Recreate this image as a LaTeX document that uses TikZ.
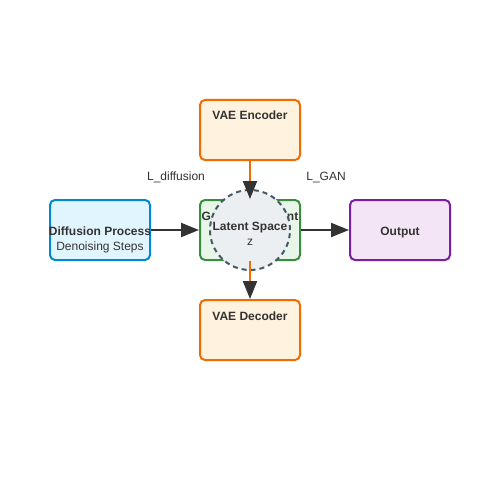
\documentclass[tikz,border=0pt]{standalone}
\usepackage{fontspec}
\setmainfont{Liberation Sans}
\usetikzlibrary{arrows.meta}
\definecolor{txt}{HTML}{333333}
\definecolor{encF}{HTML}{FFF3E0}\definecolor{encD}{HTML}{EF6C00}
\definecolor{difF}{HTML}{E1F5FE}\definecolor{difD}{HTML}{0288D1}
\definecolor{ganF}{HTML}{E8F5E9}\definecolor{ganD}{HTML}{388E3C}
\definecolor{outF}{HTML}{F3E5F5}\definecolor{outD}{HTML}{7B1FA2}
\definecolor{latF}{HTML}{ECEFF1}\definecolor{latD}{HTML}{455A64}
\tikzset{
  box/.style={draw, line width=2pt, rounded corners=5pt, minimum width=100pt, minimum height=60pt, inner sep=0pt},
  ttl/.style={font=\fontsize{12}{14}\selectfont\bfseries, text=txt, inner sep=0pt, anchor=base},
  sub/.style={font=\fontsize{12}{14}\selectfont, text=txt, inner sep=0pt, anchor=base},
  tip/.style={-{Triangle[length=18pt,width=14pt,color=txt]}},
  flow/.style={tip, line width=2pt, draw=txt},
  oflow/.style={tip, line width=2pt, draw=encD},
}
\begin{document}
\begin{tikzpicture}[x=1pt,y=-1pt]
\useasboundingbox (0,0) rectangle (500,500);
\fill[white] (0,0) rectangle (500,500);
\node[box, draw=encD, fill=encF] (enc) at (250,130) {};
\node[ttl] (encT) at (250,120) {VAE Encoder};
\node[box, draw=difD, fill=difF] (dif) at (100,230) {};
\node[ttl] (difT) at (100,235) {Diffusion Process};
\node[sub] (difS) at (100,250) {Denoising Steps};
\node[box, draw=ganD, fill=ganF] (gan) at (250,230) {};
\node[ttl] (ganT) at (250,220) {GAN Component};
\node[box, draw=outD, fill=outF] (out) at (400,230) {};
\node[ttl] (outT) at (400,235) {Output};
\node[box, draw=encD, fill=encF] (dec) at (250,330) {};
\node[ttl] (decT) at (250,320) {VAE Decoder};
\node[circle, draw=latD, fill=latF, line width=2pt, dash pattern=on 5pt off 4pt, minimum size=80pt, inner sep=0pt] (lat) at (250,230) {};
\node[ttl] (latT) at (250,230) {Latent Space};
\node[sub] (latS) at (250,245) {z};
\draw[oflow] (enc.south) -- (gan.north);
\draw[oflow] (gan.south) -- (dec.north);
\draw[flow] (dif.east) -- (gan.west);
\draw[flow] (gan.east) -- (out.west);
\node[sub] (ld) at (176,180) {L\_diffusion};
\node[sub] (lg) at (326,180) {L\_GAN};
\end{tikzpicture}
\end{document}
